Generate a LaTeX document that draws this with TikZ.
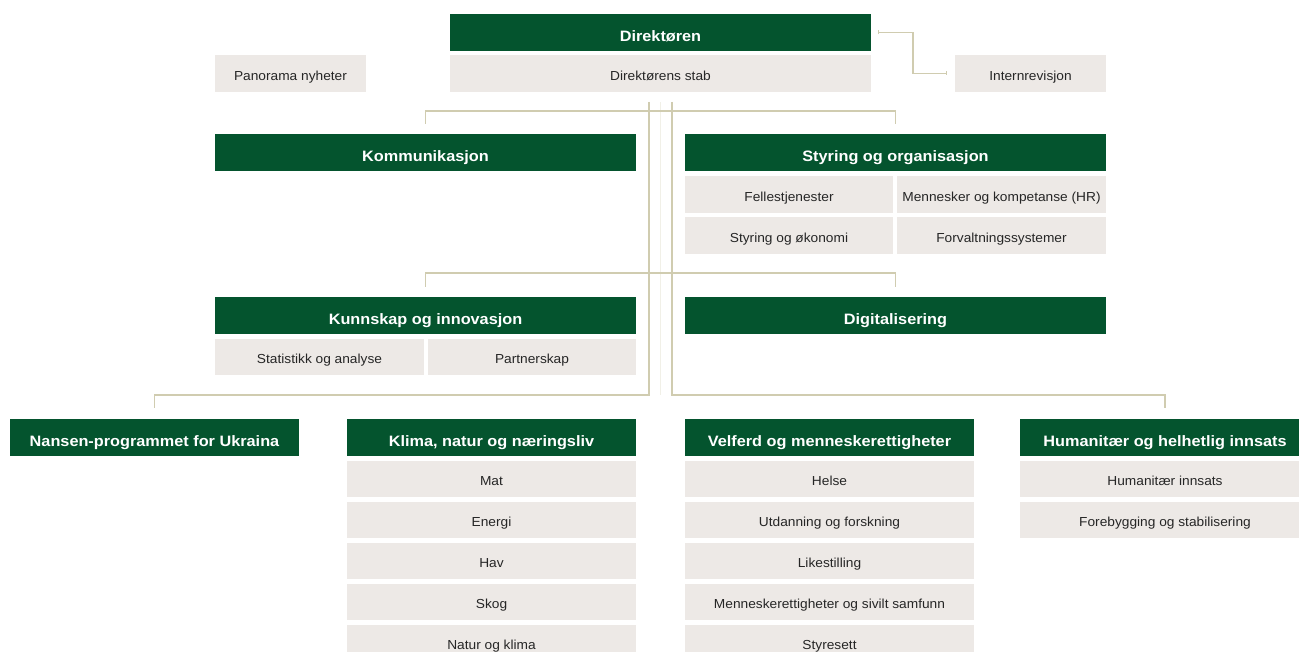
\documentclass[tikz,border=0pt]{standalone}
\usepackage{fontspec}
\setmainfont{Liberation Sans}
\newfontfamily\headfont{Liberation Sans}[FakeStretch=1.08]
\newfontfamily\subfont{Liberation Sans}[FakeStretch=1.05]
\usetikzlibrary{arrows.meta}
\definecolor{dgreen}{RGB}{4,84,46}
\definecolor{lgray}{RGB}{237,233,230}
\definecolor{tanline}{RGB}{208,204,176}
\newcommand{\bx}[7]{\node[#1,minimum width={(#5-#3)*0.75pt},minimum height={(#6-#4)*0.75pt}] (#2) at ({(#3+#5)/2},{(#4+#6)/2}) {#7};}
\tikzset{
  head/.style={fill=dgreen, text=white, font=\headfont\fontsize{11.3}{13}\selectfont\bfseries, inner sep=0pt, outer sep=0pt, text height=1.35em, text depth=0pt},
  sub/.style={fill=lgray, text=black!85, font=\subfont\fontsize{9.8}{12}\selectfont, inner sep=0pt, outer sep=0pt, text height=1.0em, text depth=0pt},
  conn/.style={draw=tanline, line width=1pt},
  faint/.style={draw=tanline!30, line width=1pt}
}
\begin{document}
\begin{tikzpicture}[x=0.75pt,y=-0.75pt]
\useasboundingbox (0,0) rectangle (1299,652);
\clip (0,0) rectangle (1299,652);
% top
\bx{head}{dir}{450}{14}{871}{51}{Direktøren}
\bx{sub}{stab}{450}{55}{871}{92}{Direktørens stab}
\bx{sub}{pan}{215}{55}{366}{92}{Panorama nyheter}
\bx{sub}{intrev}{955}{55}{1106}{92}{Internrevisjon}
% row 2
\bx{head}{komm}{215}{134}{636}{171}{Kommunikasjon}
\bx{head}{styr}{685}{134}{1106}{171}{Styring og organisasjon}
\bx{sub}{fell}{685}{176}{893}{213}{Fellestjenester}
\bx{sub}{hr}{897}{176}{1106}{213}{Mennesker og kompetanse (HR)}
\bx{sub}{okon}{685}{217}{893}{254}{Styring og økonomi}
\bx{sub}{forv}{897}{217}{1106}{254}{Forvaltningssystemer}
% row 3
\bx{head}{kunn}{215}{297}{636}{334}{Kunnskap og innovasjon}
\bx{sub}{stat}{215}{339}{424}{375}{Statistikk og analyse}
\bx{sub}{part}{428}{339}{636}{375}{Partnerskap}
\bx{head}{digi}{685}{297}{1106}{334}{Digitalisering}
% row 4
\bx{head}{nans}{10}{419}{299}{456}{Nansen-programmet for Ukraina}
\bx{head}{klima}{347}{419}{636}{456}{Klima, natur og næringsliv}
\bx{sub}{mat}{347}{461}{636}{497}{Mat}
\bx{sub}{energi}{347}{502}{636}{538}{Energi}
\bx{sub}{hav}{347}{543}{636}{579}{Hav}
\bx{sub}{skog}{347}{584}{636}{620}{Skog}
\bx{sub}{natur}{347}{625}{636}{661}{Natur og klima}
\bx{head}{velf}{685}{419}{974}{456}{Velferd og menneskerettigheter}
\bx{sub}{helse}{685}{461}{974}{497}{Helse}
\bx{sub}{utd}{685}{502}{974}{538}{Utdanning og forskning}
\bx{sub}{like}{685}{543}{974}{579}{Likestilling}
\bx{sub}{menn}{685}{584}{974}{620}{Menneskerettigheter og sivilt samfunn}
\bx{sub}{stys}{685}{625}{974}{661}{Styresett}
\bx{head}{hum}{1020}{419}{1310}{456}{Humanitær og helhetlig innsats}
\bx{sub}{hinn}{1020}{461}{1310}{497}{Humanitær innsats}
\bx{sub}{fore}{1020}{502}{1310}{538}{Forebygging og stabilisering}
% connectors
\draw[conn, {Bar[width=3pt,line width=0.7pt]}-{Bar[width=3pt,line width=0.7pt]}] ([xshift=5.25pt]dir.east) -- ++(35,0) |- ([xshift=-6pt]intrev.west);
\draw[faint] ([yshift=-7.5pt]stab.south) -- ++(0,293);
\draw[conn] ([xshift=-11.5*0.75pt,yshift=-7.5pt]stab.south) -- ++(0,293) -| ([yshift=8.25pt]nans.north);
\draw[conn] ([xshift=11.5*0.75pt,yshift=-7.5pt]stab.south) -- ++(0,293) -| ([yshift=8.25pt]hum.north);
\draw[conn] ([yshift=7.5pt]komm.north) -- ++(0,-13) -| ([yshift=7.5pt]styr.north);
\draw[conn] ([yshift=7.5pt]kunn.north) -- ++(0,-14) -| ([yshift=7.5pt]digi.north);
\end{tikzpicture}
\end{document}
